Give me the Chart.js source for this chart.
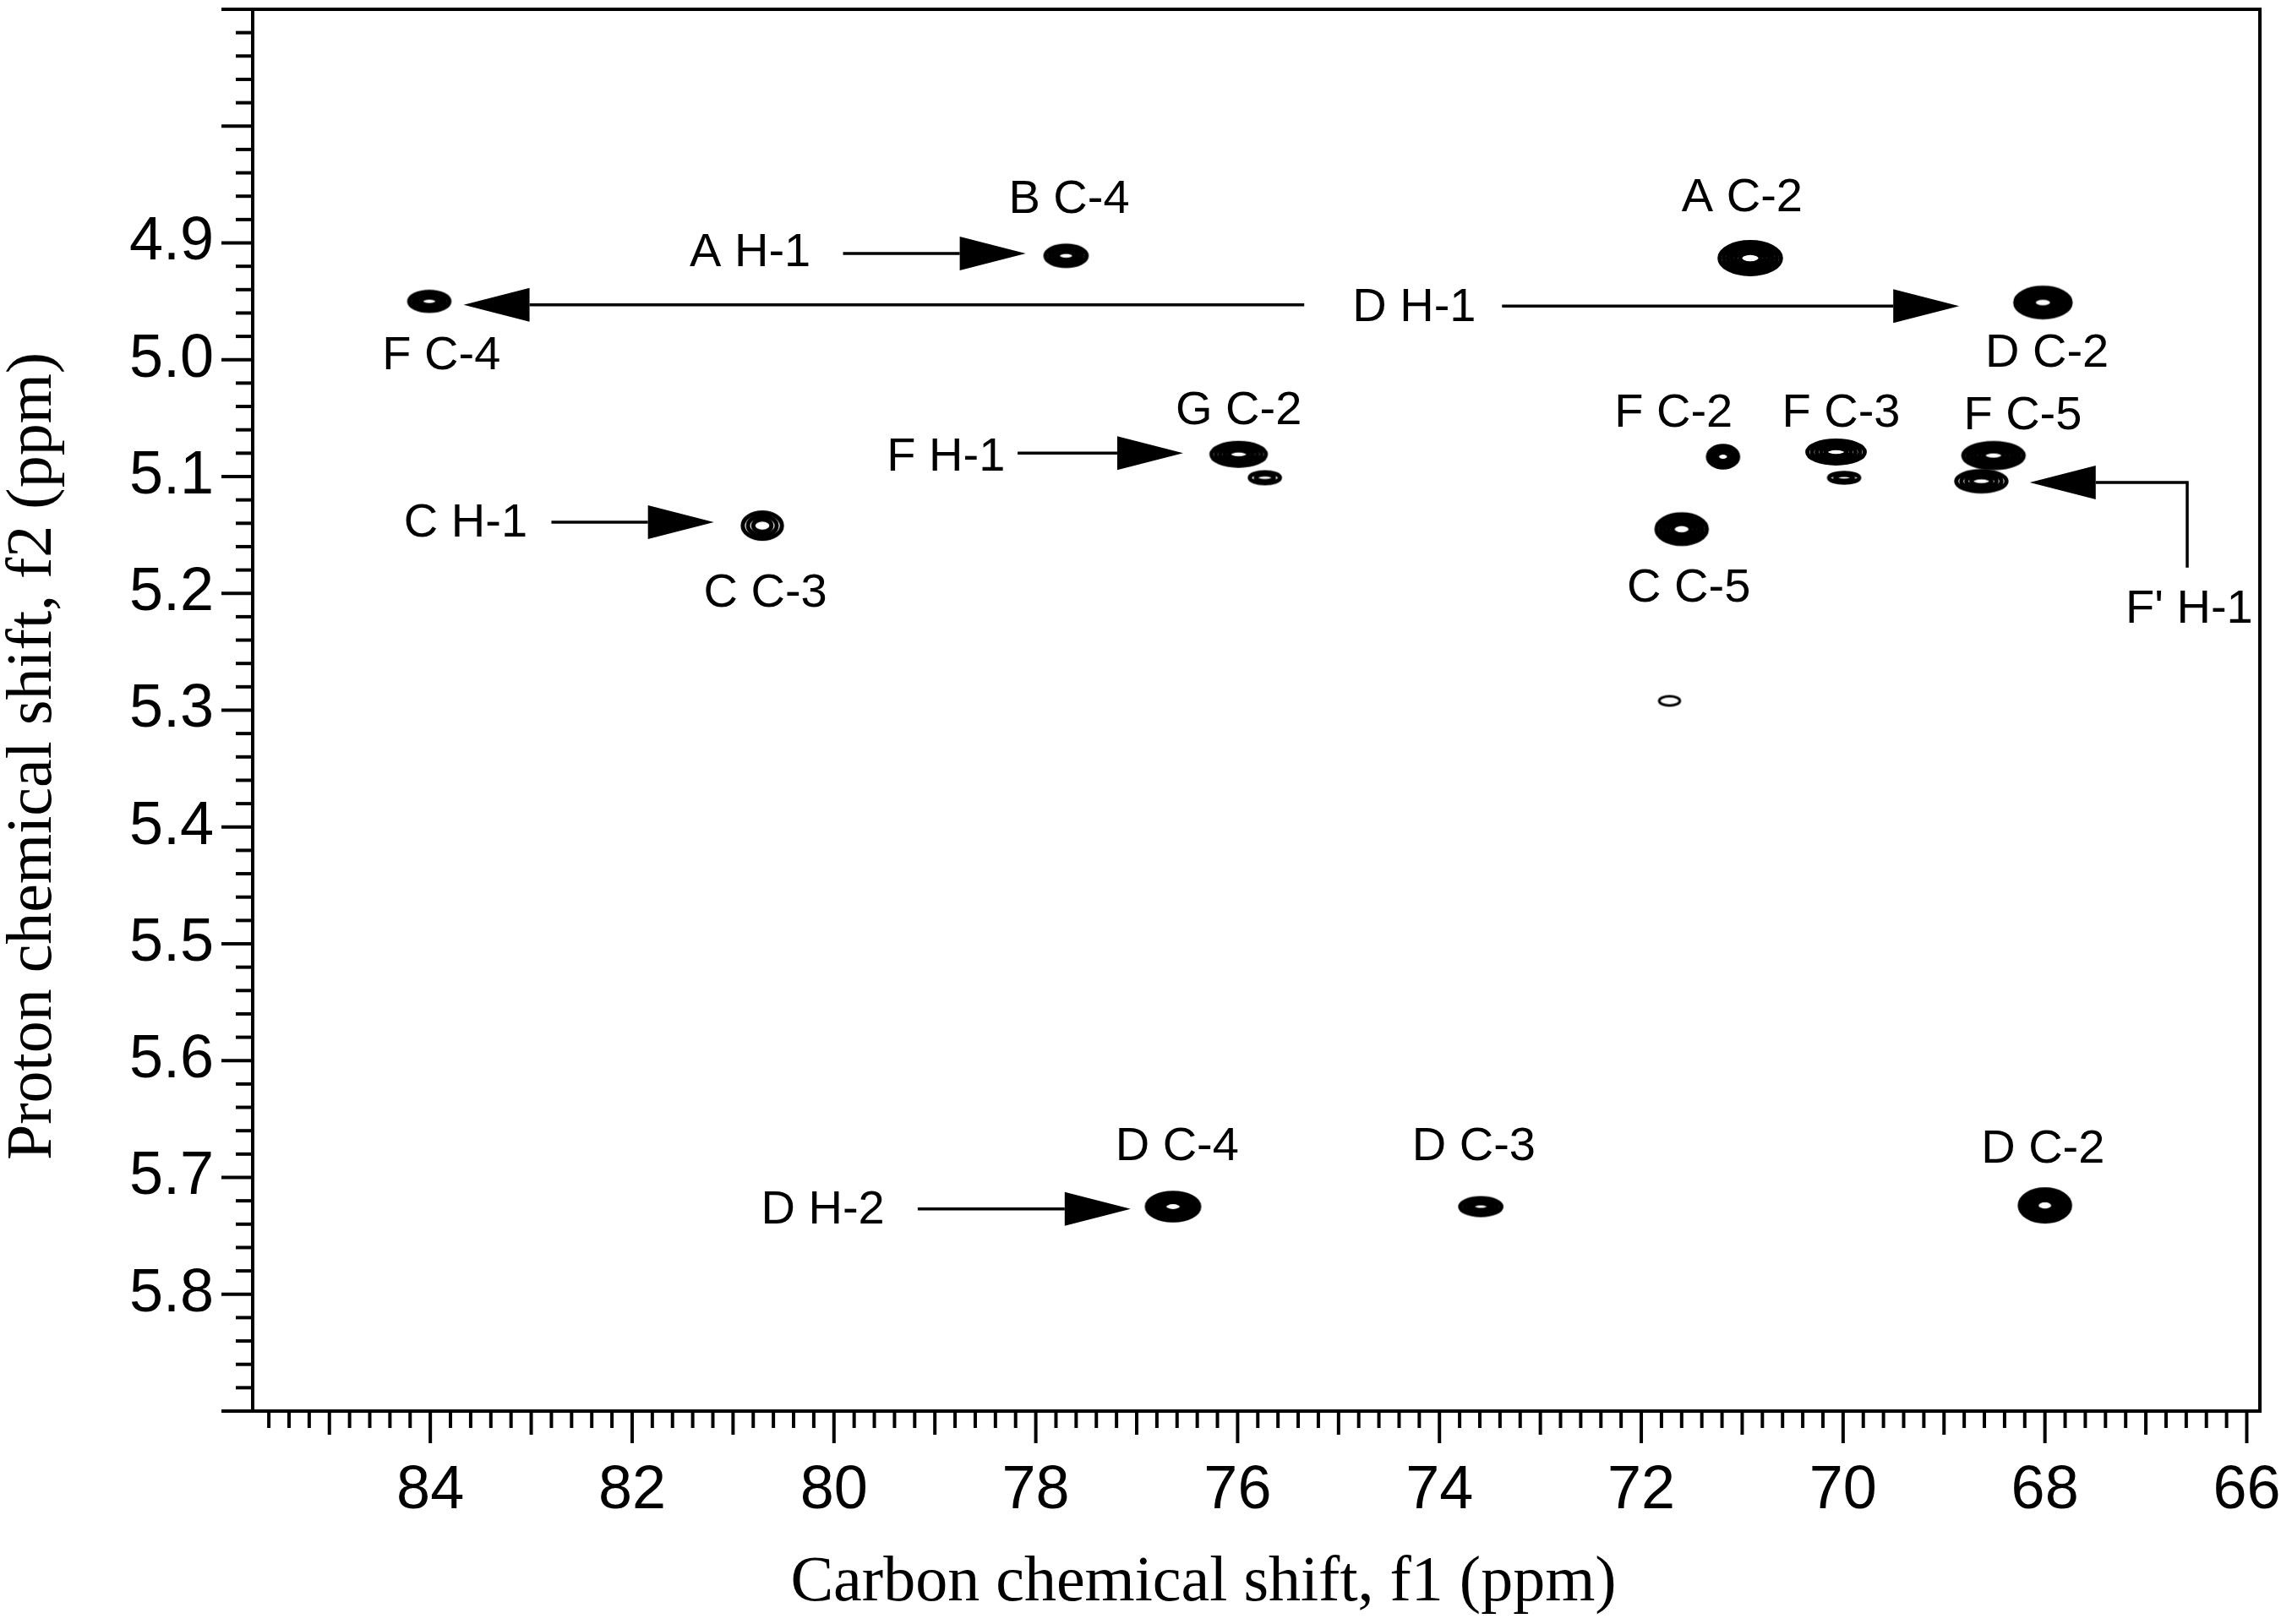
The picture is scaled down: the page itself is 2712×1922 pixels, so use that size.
<!DOCTYPE html>
<html>
<head>
<meta charset="utf-8">
<title>HMBC spectrum</title>
<script src="https://cdn.jsdelivr.net/npm/chart.js@4.4.1/dist/chart.umd.min.js"></script>
<style>
    html, body { margin: 0; padding: 0; background: #fff; }
    #wrap { width: 2712px; height: 1922px; }
</style>
</head>
<body>
<div id="wrap"><canvas id="nmrChart" width="2712" height="1922"></canvas></div>
<script>
// cross peaks: carbon shift f1, proton shift f2 (ppm), peak extent (ppm) and contour levels
const peakNames = ["B C-4", "A C-2", "F C-4", "D C-2", "G C-2", "G C-2 b", "F C-2", "F C-3", "F C-3 b", "F C-5", "F' C-5", "C C-3", "C C-5", "minor", "D C-4", "D C-3", "D C-2 b"];
const peakCarbon = [77.70, 70.92, 84.01, 68.02, 75.99, 75.73, 71.19, 70.07, 69.99, 68.51, 68.63, 80.71, 71.60, 71.72, 76.64, 73.59, 68.00];
const peakProton = [4.911, 4.913, 4.950, 4.951, 5.081, 5.101, 5.083, 5.079, 5.101, 5.082, 5.104, 5.142, 5.145, 5.292, 5.725, 5.725, 5.724];
const peakWidthC = [0.45, 0.65, 0.44, 0.59, 0.58, 0.34, 0.34, 0.61, 0.34, 0.64, 0.54, 0.43, 0.54, 0.23, 0.56, 0.45, 0.54];
const peakWidthH = [0.021, 0.031, 0.020, 0.029, 0.023, 0.013, 0.022, 0.023, 0.012, 0.025, 0.021, 0.026, 0.029, 0.010, 0.027, 0.018, 0.031];
const peakLevels = [4, 6, 4, 6, 5, 2, 4, 5, 2, 6, 4, 3, 5, 1, 6, 4, 6];

const xTickLabels = [84, 82, 80, 78, 76, 74, 72, 70, 68, 66];
const yTickLabels = [4.9, 5.0, 5.1, 5.2, 5.3, 5.4, 5.5, 5.6, 5.7, 5.8];

const xMin = 65.87, xMax = 85.76;
const yMin = 4.7, yMax = 5.9;
const xMinorStep = 0.2;
const yMinorStep = 0.02;

const annotations = [
    { text: "B C-4", x: 77.67, y: 4.863 },
    { text: "A C-2", x: 71.00, y: 4.862 },
    { text: "A H-1", x: 80.83, y: 4.909 },
    { text: "D H-1", x: 74.25, y: 4.956 },
    { text: "F C-4", x: 83.89, y: 4.997 },
    { text: "D C-2", x: 67.98, y: 4.995 },
    { text: "G C-2", x: 75.99, y: 5.044 },
    { text: "F H-1", x: 78.89, y: 5.084 },
    { text: "F C-2", x: 71.68, y: 5.046 },
    { text: "F C-3", x: 70.02, y: 5.046 },
    { text: "F C-5", x: 68.22, y: 5.048 },
    { text: "C H-1", x: 83.65, y: 5.140 },
    { text: "C C-3", x: 80.68, y: 5.200 },
    { text: "C C-5", x: 71.53, y: 5.196 },
    { text: "F' H-1", x: 66.57, y: 5.214 },
    { text: "D C-4", x: 76.60, y: 5.674 },
    { text: "D C-3", x: 73.66, y: 5.674 },
    { text: "D C-2", x: 68.02, y: 5.676 },
    { text: "D H-2", x: 80.11, y: 5.728 }
];

const arrows = [
    [[79.91, 4.909], [78.10, 4.909]],
    [[75.34, 4.953], [83.67, 4.953]],
    [[73.38, 4.954], [68.85, 4.954]],
    [[78.18, 5.080], [76.54, 5.080]],
    [[82.80, 5.139], [81.19, 5.139]],
    [[79.17, 5.727], [77.06, 5.727]],
    [[66.59, 5.178], [66.59, 5.105], [68.15, 5.105]]
];

const labelFont = "56px 'Liberation Sans', Arial, sans-serif";
const titleFont = "76px 'Liberation Serif', 'Times New Roman', serif";
const tickFont = { family: "'Liberation Sans', Arial, sans-serif", size: 72 };

function contourImage(chart, i) {
    let xs = chart.scales.x;
    let ys = chart.scales.y;
    let w = Math.abs(xs.getPixelForValue(peakCarbon[i] - peakWidthC[i] / 2) - xs.getPixelForValue(peakCarbon[i] + peakWidthC[i] / 2));
    let h = Math.abs(ys.getPixelForValue(peakProton[i] + peakWidthH[i] / 2) - ys.getPixelForValue(peakProton[i] - peakWidthH[i] / 2));
    if (!isFinite(w) || !isFinite(h) || w < 4 || h < 4) {
        w = 4;
        h = 4;
    }
    let levels = peakLevels[i];
    let lw = levels > 1 ? 5 : 3;
    let pad = Math.ceil(lw);
    let c = document.createElement("canvas");
    c.width = Math.ceil(w + pad * 2);
    c.height = Math.ceil(h + pad * 2);
    let g = c.getContext("2d");
    g.strokeStyle = "#000";
    g.lineWidth = lw;
    for (let k = 0; k < levels; k++) {
        let s = 1 - k * 0.8 / levels;
        g.beginPath();
        g.ellipse(c.width / 2, c.height / 2, Math.max(1, (w / 2 - lw / 2) * s), Math.max(1, (h / 2 - lw / 2) * s), 0, 0, Math.PI * 2);
        g.stroke();
    }
    return c;
}

function drawArrow(g, pts) {
    let n = pts.length;
    let [tx, ty] = pts[n - 1];
    let [px, py] = pts[n - 2];
    let len = Math.hypot(tx - px, ty - py);
    let ux = (tx - px) / len, uy = (ty - py) / len;
    let headLen = 78, headHalf = 20;
    let bx = tx - ux * headLen, by = ty - uy * headLen;

    g.beginPath();
    g.moveTo(pts[0][0], pts[0][1]);
    for (let k = 1; k < n - 1; k++) g.lineTo(pts[k][0], pts[k][1]);
    g.lineTo(bx, by);
    g.stroke();

    g.beginPath();
    g.moveTo(tx, ty);
    g.lineTo(bx - uy * headHalf, by + ux * headHalf);
    g.lineTo(bx + uy * headHalf, by - ux * headHalf);
    g.closePath();
    g.fill();
}

const decorations = {
    id: "decorations",
    afterDraw(chart) {
        let g = chart.ctx;
        let area = chart.chartArea;
        let xs = chart.scales.x;
        let ys = chart.scales.y;
        g.save();
        g.strokeStyle = "#000";
        g.fillStyle = "#000";
        g.lineCap = "butt";

        // frame
        g.lineWidth = 4;
        g.strokeRect(area.left, area.top, area.right - area.left, area.bottom - area.top);

        // x ticks: long at even ppm, medium at odd ppm, short every 0.2
        for (let k = Math.ceil(xMin / xMinorStep - 1e-6); k * xMinorStep <= xMax + 1e-6; k++) {
            let v = k * xMinorStep;
            let isInt = Math.abs(v - Math.round(v)) < 1e-6;
            let len = isInt ? (Math.round(v) % 2 === 0 ? 38 : 28) : 20;
            let px = xs.getPixelForValue(v);
            g.beginPath();
            g.moveTo(px, area.bottom);
            g.lineTo(px, area.bottom + len);
            g.stroke();
        }

        // y ticks: long every 0.1, short every 0.02
        for (let k = Math.ceil(yMin / yMinorStep - 1e-6); k * yMinorStep <= yMax + 1e-6; k++) {
            let v = k * yMinorStep;
            let isMajor = Math.abs(v * 10 - Math.round(v * 10)) < 1e-6;
            let len = isMajor ? 37 : 20;
            let py = ys.getPixelForValue(v);
            g.beginPath();
            g.moveTo(area.left, py);
            g.lineTo(area.left - len, py);
            g.stroke();
        }

        // arrows
        g.lineWidth = 3.5;
        arrows.forEach(a => {
            drawArrow(g, a.map(p => [xs.getPixelForValue(p[0]), ys.getPixelForValue(p[1])]));
        });

        // peak labels
        g.font = labelFont;
        g.textAlign = "center";
        g.textBaseline = "middle";
        annotations.forEach(a => {
            g.fillText(a.text, xs.getPixelForValue(a.x), ys.getPixelForValue(a.y));
        });

        // axis titles
        g.font = titleFont;
        g.fillText("Carbon chemical shift, f1 (ppm)", 1424, 1874);
        g.translate(40, 895);
        g.rotate(-Math.PI / 2);
        g.fillText("Proton chemical shift, f2 (ppm)", 0, 0);
        g.restore();
    }
};

const chart = new Chart(document.getElementById("nmrChart"), {
    type: "scatter",
    data: {
        datasets: [{
            label: "HMBC",
            data: peakCarbon.map((c, i) => ({ x: c, y: peakProton[i] })),
            pointStyle: ctx => ctx.dataIndex === undefined ? "circle" : contourImage(ctx.chart, ctx.dataIndex),
            pointRadius: 5
        }]
    },
    options: {
        responsive: false,
        devicePixelRatio: 1,
        animation: false,
        events: [],
        layout: { padding: { top: 11, right: 38, left: 0, bottom: 0 } },
        plugins: {
            legend: { display: false },
            tooltip: { enabled: false }
        },
        scales: {
            x: {
                type: "linear",
                reverse: true,
                min: xMin,
                max: xMax,
                grid: { display: false, drawTicks: false },
                border: { display: false },
                ticks: {
                    autoSkip: false,
                    maxRotation: 0,
                    padding: 52,
                    color: "#000",
                    font: tickFont,
                    callback: v => String(v)
                },
                afterBuildTicks: s => { s.ticks = xTickLabels.map(v => ({ value: v })); },
                afterFit: s => {
                    s.height = 252;
                    s.paddingLeft = 0;
                    s.paddingRight = 0;
                }
            },
            y: {
                type: "linear",
                reverse: true,
                min: yMin,
                max: yMax,
                grid: { display: false, drawTicks: false },
                border: { display: false },
                ticks: {
                    autoSkip: false,
                    padding: 46,
                    color: "#000",
                    font: tickFont,
                    callback: v => Number(v).toFixed(1)
                },
                afterBuildTicks: s => { s.ticks = yTickLabels.map(v => ({ value: v })); },
                afterFit: s => {
                    s.width = 299;
                    s.paddingTop = 0;
                    s.paddingBottom = 0;
                }
            }
        }
    },
    plugins: [decorations]
});
</script>
</body>
</html>
